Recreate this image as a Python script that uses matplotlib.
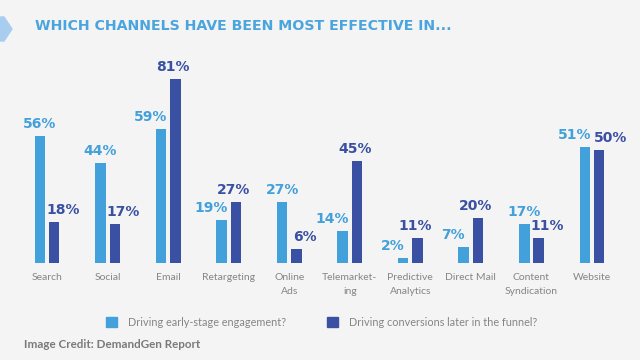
import matplotlib
matplotlib.use("Agg")
import matplotlib.pyplot as plt
from matplotlib.patches import Polygon, Rectangle
import numpy as np

# данные с картинки
channels = ["Search", "Social", "Email", "Retargeting", "Online\nAds",
            "Telemarket-\ning", "Predictive\nAnalytics", "Direct Mail",
            "Content\nSyndication", "Website"]
early = [56, 44, 59, 19, 27, 14, 2, 7, 17, 51]
later = [18, 17, 81, 27, 6, 45, 11, 20, 11, 50]
series_names = ["Driving early-stage engagement?",
                "Driving conversions later in the funnel?"]

LIGHT = "#42a0da"
DARK = "#3a50a2"
BG = "#f4f4f4"
GREY = "#858585"
plt.rcParams['font.family'] = ['Lato', 'DejaVu Sans']

W, H = 640, 360
fig = plt.figure(figsize=(6.4, 3.6), dpi=100, facecolor=BG)
# ось: базовая линия на 263 px сверху, 60.5 px между группами
ax = fig.add_axes([0, 97 / H, 1, 203 / H])
ax.set_facecolor(BG)
px = 60.56  # пикселей на одну группу
ax.set_xlim(-47 / px, (W - 47) / px)
ax.set_ylim(0, 203 / 2.27)

x = np.arange(len(channels))
w = 10.5 / px
off = 7.2 / px
ax.bar(x - off, early, w, color=LIGHT)
ax.bar(x + off, later, w, color=DARK)

# подписи процентов (сдвигаем, чтобы не залезали на соседний столбик)
for i, (a, b) in enumerate(zip(early, later)):
    if abs(a - b) <= 3:
        dl, dd = -17, 19
    elif a > b:
        dl, dd = -7, 16
    else:
        dl, dd = -18, 5
    ax.text(x[i] + dl / px, a + 2.2, f"{a}%", ha='center', va='bottom',
            color=LIGHT, fontsize=10, fontweight='bold', family='DejaVu Sans')
    ax.text(x[i] + dd / px, b + 2.2, f"{b}%", ha='center', va='bottom',
            color=DARK, fontsize=10, fontweight='bold', family='DejaVu Sans')

ax.set_xticks(x)
ax.set_xticklabels(channels, fontsize=7.5, color=GREY, linespacing=1.75)
ax.tick_params(axis='x', length=0, pad=7)
ax.set_yticks([])
for s in ax.spines.values():
    s.set_visible(False)

# заголовок и стрелка слева
fig.text(35 / W, 1 - 26.5 / H, "WHICH CHANNELS HAVE BEEN MOST EFFECTIVE IN...",
         color='#4aa5de', fontsize=10.2, fontweight='bold',
         family='DejaVu Sans', va='center')
arrow = Polygon([[0, 1 - 17 / H], [4 / W, 1 - 17 / H], [12 / W, 1 - 29 / H],
                 [4 / W, 1 - 41 / H], [0, 1 - 41 / H]],
                closed=True, transform=fig.transFigure, color='#a9cdee')
fig.patches.append(arrow)

# легенда вручную
for (sq_x, tx_x), col, name in zip([(106, 128), (327, 349)], [LIGHT, DARK], series_names):
    fig.patches.append(Rectangle((sq_x / W, 1 - 327 / H), 11 / W, 10 / H,
                                 transform=fig.transFigure, color=col))
    fig.text(tx_x / W, 1 - 322 / H, name, color=GREY, fontsize=7.8, va='center')

fig.text(24 / W, 1 - 344 / H, "Image Credit: DemandGen Report",
         color='#7a7a7a', fontsize=8.4, fontweight='bold', va='center')

fig.savefig("out.png", dpi=100, facecolor=BG)
